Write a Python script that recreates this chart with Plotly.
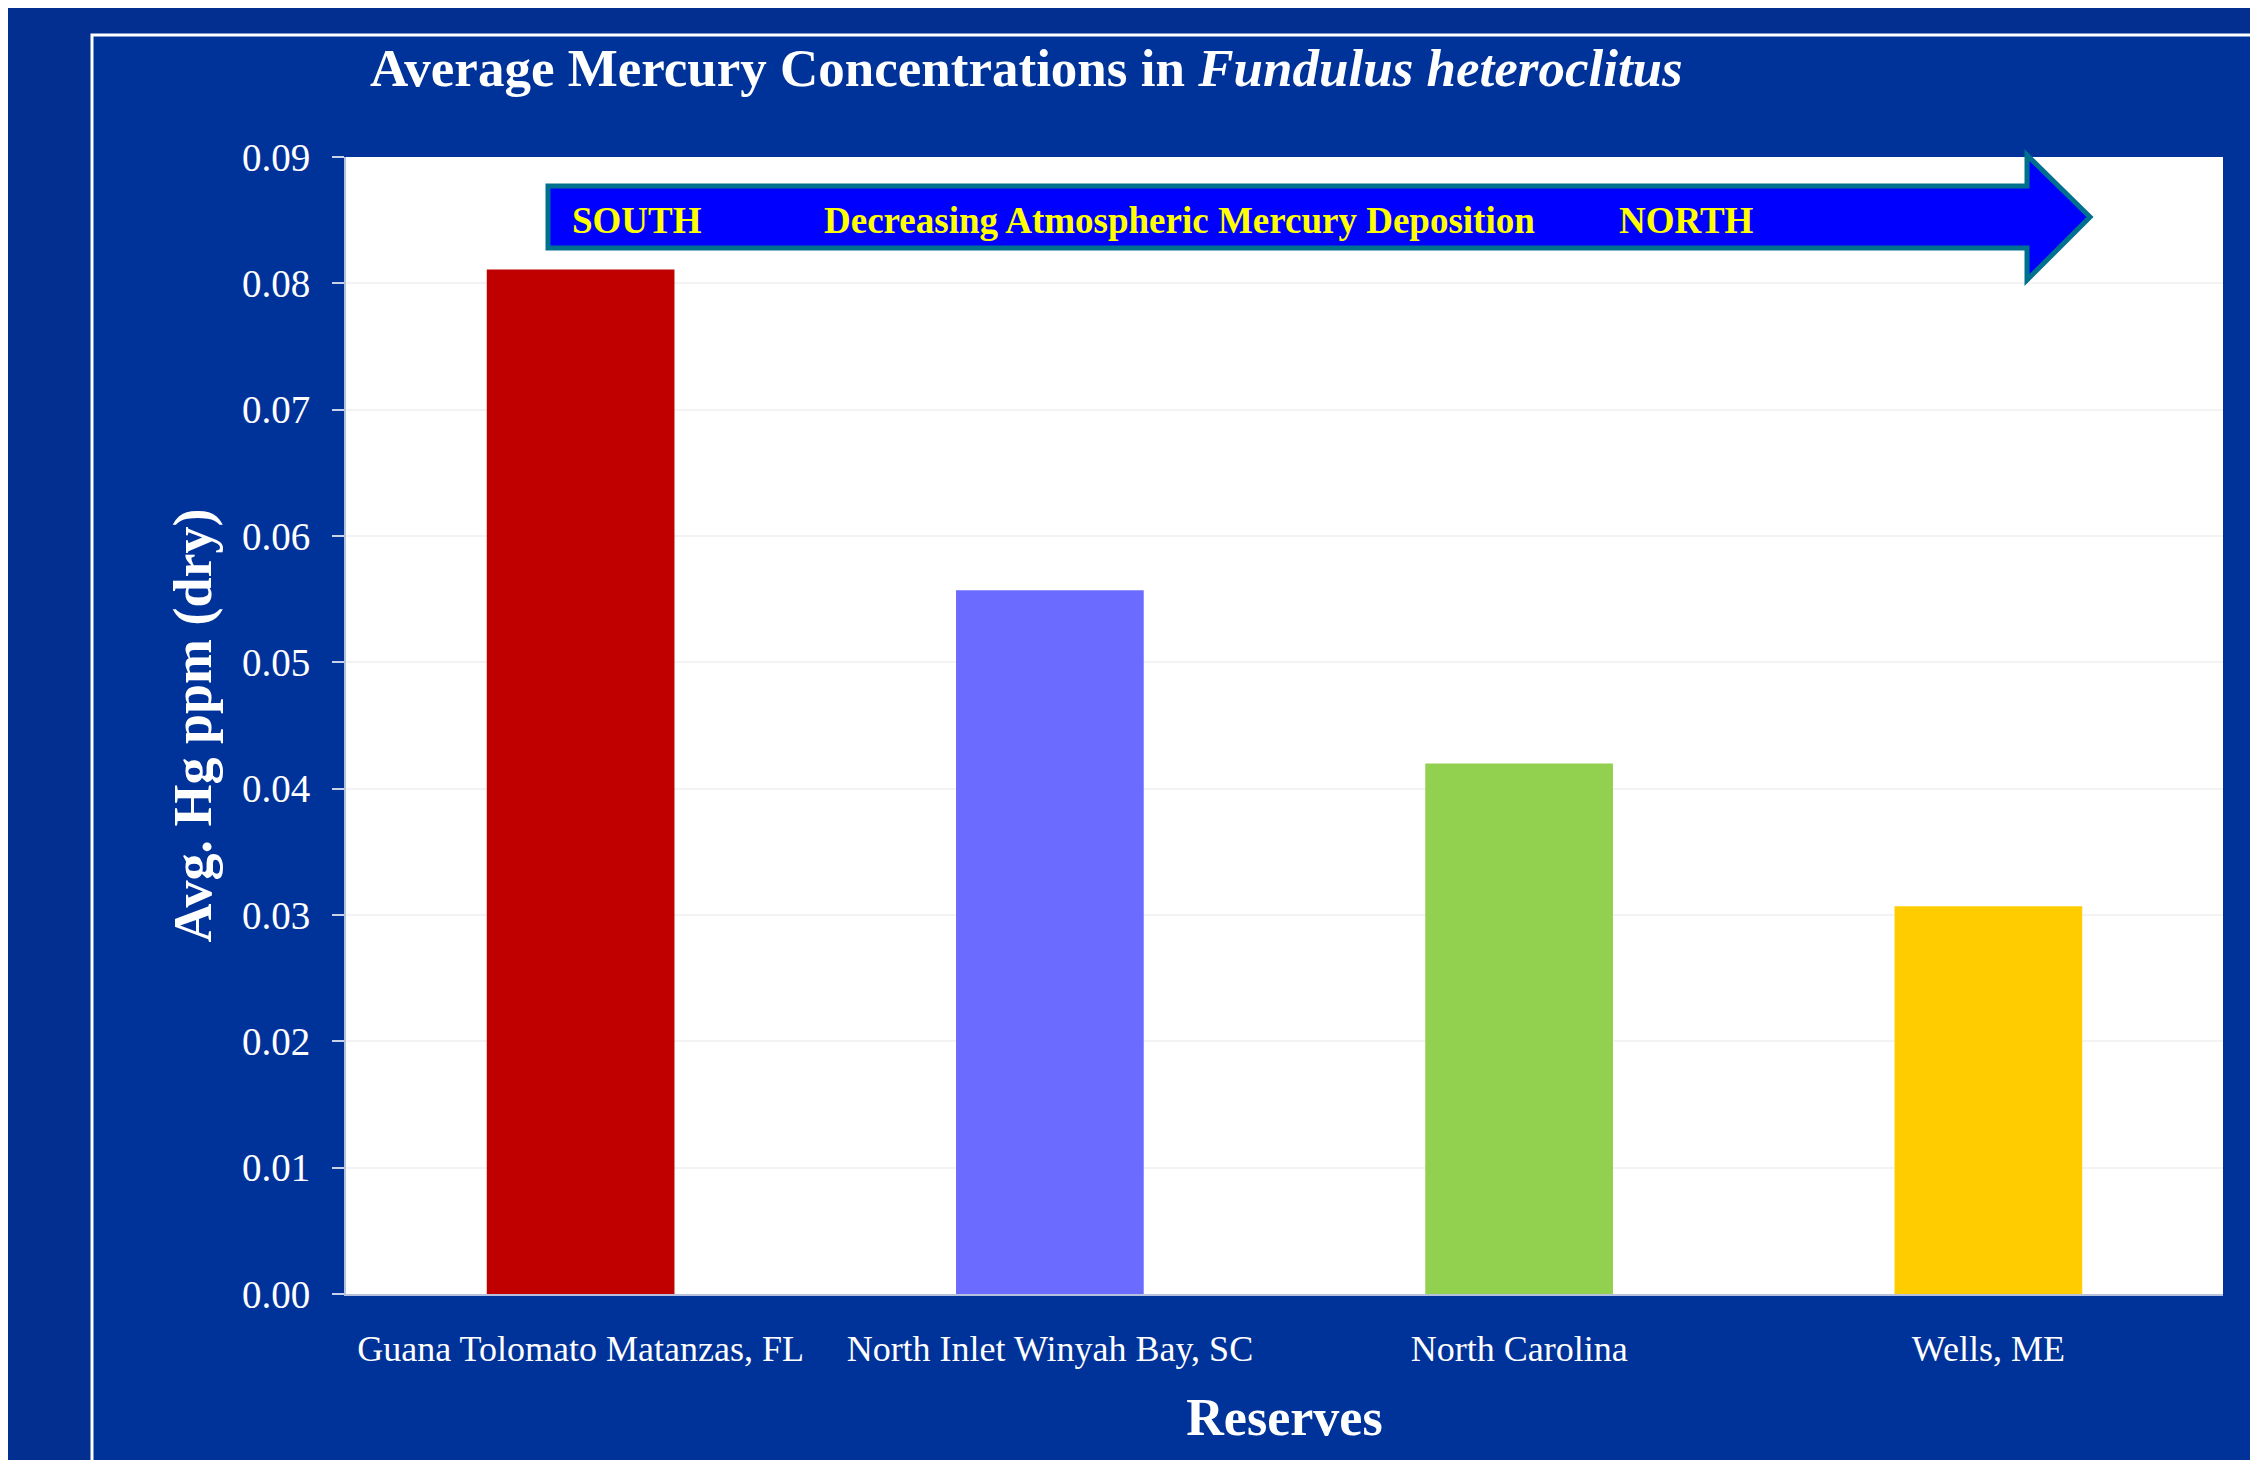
import plotly.graph_objects as go

# ---- data ----
reserves = ["Guana Tolomato Matanzas, FL", "North Inlet Winyah Bay, SC", "North Carolina", "Wells, ME"]
hg_ppm = [0.0811, 0.0557, 0.0420, 0.0307]
bar_colors = ["#C00000", "#6B6BFF", "#92D050", "#FFCC00"]
y_ticks = [0.00, 0.01, 0.02, 0.03, 0.04, 0.05, 0.06, 0.07, 0.08, 0.09]
y_tick_labels = [f"{v:.2f}" for v in y_ticks]

W, H = 2258, 1460
OFF = 8  # page offset of the figure in the browser
# plot area in screen pixels
SL, SR, ST, SB = 346, 2223, 157, 1294
L, T = SL - OFF, ST - OFF
R, B = W - (SR - OFF), H - (SB - OFF)
PW, PH = SR - SL, SB - ST

def px(x):
    return (x - SL) / PW

def py(y):
    return (SB - y) / PH

FONT = "Liberation Serif, Times New Roman, serif"
OUTER = "#033090"
INNER = "#003399"

fig = go.Figure(go.Bar(
    x=reserves, y=hg_ppm, marker=dict(color=bar_colors, line=dict(width=0)),
    width=0.4, showlegend=False,
))

shapes = [
    # outer white frame
    dict(type="rect", xref="paper", yref="paper", x0=px(92), x1=px(W + 40), y0=py(H + 40), y1=py(35),
         fillcolor=INNER, line=dict(color="white", width=3), layer="below"),
    # plot area
    dict(type="rect", xref="paper", yref="paper", x0=0, x1=1, y0=0, y1=1,
         fillcolor="white", line=dict(width=0), layer="below"),
]

# arrow
sx0, hx, tx = px(548), px(2027), px(2090)
st, sb, ht, hb, ty = py(186), py(248), py(155), py(280), py(217)
path = (f"M {sx0},{st} L {hx},{st} L {hx},{ht} L {tx},{ty} L {hx},{hb} "
        f"L {hx},{sb} L {sx0},{sb} Z")
shapes.append(dict(type="path", xref="paper", yref="paper", path=path,
                   fillcolor="#0000FF", line=dict(color="#00708F", width=5), layer="above"))

ann_y = py(220)
annotations = [
    dict(text="<b>SOUTH</b>", x=px(570), y=ann_y, xanchor="left", yanchor="middle"),
    dict(text="<b>Decreasing Atmospheric Mercury Deposition</b>", x=px(822), y=ann_y, xanchor="left", yanchor="middle"),
    dict(text="<b>NORTH</b>", x=px(1617), y=ann_y, xanchor="left", yanchor="middle"),
]
for a in annotations:
    a.update(xref="paper", yref="paper", showarrow=False,
             font=dict(family=FONT, size=37, color="#FFFF00"))

fig.update_layout(
    width=W, height=H,
    margin=dict(l=L, r=R, t=T, b=B, autoexpand=False),
    paper_bgcolor=OUTER, plot_bgcolor=INNER,
    font=dict(family=FONT, color="white"),
    title=dict(text="<b>Average Mercury Concentrations in <i>Fundulus heteroclitus</i></b>",
               x=(370 - OFF) / W, xanchor="left", xref="container",
               y=1 - (67 - OFF) / H, yanchor="middle", yref="container",
               font=dict(family=FONT, size=53, color="white")),
    xaxis=dict(
        title=dict(text="<b>Reserves</b>", font=dict(size=52, color="white"), standoff=30),
        tickfont=dict(size=36, color="white"),
        showline=True, linecolor="#B4C0DC", linewidth=2,
        showgrid=False, ticks="", ticklabelstandoff=22,
        automargin=False,
    ),
    yaxis=dict(
        title=dict(text="<b>Avg. Hg ppm (dry)</b>", font=dict(size=54, color="white"), standoff=13),
        range=[0, 0.09], tickvals=y_ticks, ticktext=y_tick_labels,
        tickfont=dict(size=39, color="white"),
        showline=True, linecolor="#B4C0DC", linewidth=2,
        ticks="outside", ticklen=12, tickcolor="#C8D2EA", tickwidth=2,
        showgrid=True, gridcolor="#F3F3F3", gridwidth=2,
        zeroline=False, ticklabelstandoff=14,
        automargin=False,
    ),
    shapes=shapes, annotations=annotations,
    bargap=0.6,
)

fig.write_html("out.html")
